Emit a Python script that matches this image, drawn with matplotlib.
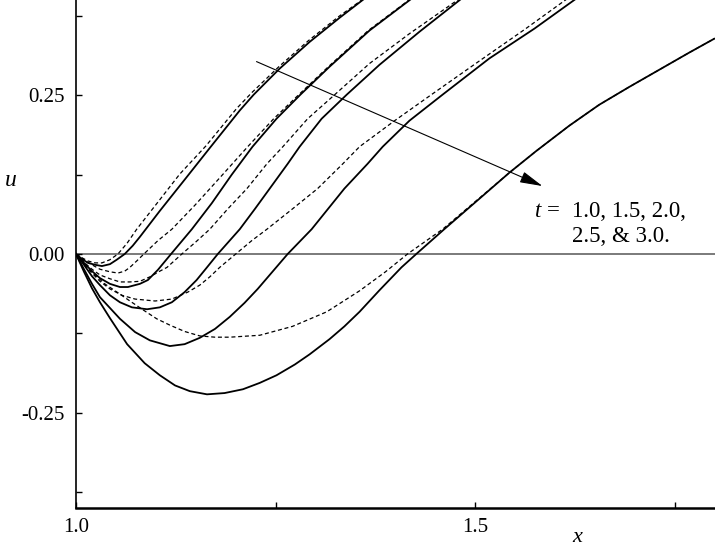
import matplotlib
matplotlib.use("Agg")
import matplotlib.pyplot as plt
from matplotlib.ticker import FixedLocator, FuncFormatter

# solid curves: t = 1.0, 1.5, 2.0, 2.5, 3.0
s1_x = [1.000, 1.0075, 1.015, 1.024, 1.0325, 1.0425, 1.051, 1.061, 1.071, 1.080, 1.105,
        1.136, 1.1675, 1.205, 1.2225, 1.255, 1.2925, 1.330, 1.361]
s1_u = [0, -0.008, -0.014, -0.017, -0.019, -0.016, -0.009, 0, 0.013, 0.027, 0.068,
        0.117, 0.167, 0.226, 0.251, 0.292, 0.334, 0.372, 0.402]

s2_x = [1.000, 1.010, 1.020, 1.030, 1.0425, 1.055, 1.065, 1.080, 1.090, 1.1025, 1.119,
        1.145, 1.170, 1.195, 1.221, 1.251, 1.281, 1.3175, 1.3675, 1.420]
s2_u = [0, -0.014, -0.027, -0.038, -0.047, -0.052, -0.052, -0.047, -0.041, -0.025, 0,
        0.039, 0.080, 0.125, 0.169, 0.213, 0.251, 0.295, 0.352, 0.402]

s3_x = [1.000, 1.010, 1.020, 1.030, 1.0425, 1.055, 1.070, 1.089, 1.105, 1.120, 1.136,
        1.151, 1.164, 1.1775, 1.205, 1.224, 1.2425, 1.265, 1.280, 1.3075, 1.339, 1.380,
        1.430, 1.4825]
s3_u = [0, -0.017, -0.035, -0.049, -0.065, -0.076, -0.084, -0.087, -0.084, -0.076, -0.060,
        -0.041, -0.021, 0, 0.039, 0.071, 0.103, 0.142, 0.169, 0.213, 0.251, 0.298,
        0.350, 0.402]

s4_x = [1.000, 1.010, 1.020, 1.030, 1.0425, 1.055, 1.074, 1.0925, 1.1175, 1.136, 1.155,
        1.174, 1.1925, 1.211, 1.2275, 1.2425, 1.265, 1.295, 1.336, 1.365, 1.384, 1.4175,
        1.459, 1.5175, 1.574, 1.626]
s4_u = [0, -0.024, -0.047, -0.068, -0.085, -0.102, -0.123, -0.136, -0.145, -0.142, -0.132,
        -0.118, -0.099, -0.077, -0.055, -0.033, 0, 0.039, 0.103, 0.142, 0.169, 0.210,
        0.251, 0.308, 0.355, 0.402]

s5_x = [1.000, 1.010, 1.020, 1.030, 1.0425, 1.064, 1.086, 1.105, 1.124, 1.1425, 1.164,
        1.186, 1.209, 1.230, 1.251, 1.274, 1.2925, 1.3175, 1.336, 1.355, 1.380, 1.4075,
        1.426, 1.461, 1.505, 1.5425, 1.576, 1.6175, 1.655, 1.6925, 1.730, 1.7675, 1.799]
s5_u = [0, -0.028, -0.054, -0.076, -0.101, -0.142, -0.172, -0.191, -0.207, -0.216, -0.221,
        -0.219, -0.213, -0.203, -0.191, -0.174, -0.158, -0.134, -0.114, -0.091, -0.057,
        -0.021, 0, 0.039, 0.087, 0.128, 0.162, 0.202, 0.235, 0.263, 0.290, 0.317, 0.339]

# dashed curves (same t values)
d1_x = [1.000, 1.0075, 1.015, 1.024, 1.0325, 1.0425, 1.0525, 1.064, 1.076, 1.099, 1.130,
        1.1625, 1.201, 1.220, 1.254, 1.291, 1.329, 1.360]
d1_u = [0, -0.006, -0.011, -0.014, -0.014, -0.009, 0, 0.017, 0.039, 0.076, 0.126,
        0.170, 0.229, 0.254, 0.295, 0.336, 0.374, 0.402]

d2_x = [1.000, 1.010, 1.020, 1.030, 1.0425, 1.0525, 1.061, 1.0675, 1.076, 1.085, 1.1025,
        1.120, 1.149, 1.180, 1.215, 1.2475, 1.279, 1.316, 1.366, 1.419]
d2_u = [0, -0.009, -0.017, -0.024, -0.028, -0.030, -0.027, -0.021, -0.011, 0, 0.021,
        0.039, 0.077, 0.120, 0.169, 0.213, 0.251, 0.295, 0.352, 0.402]

d3_x = [1.000, 1.010, 1.020, 1.030, 1.0425, 1.055, 1.0675, 1.080, 1.0925, 1.105, 1.114,
        1.1325, 1.150, 1.1675, 1.190, 1.214, 1.239, 1.259, 1.290, 1.324, 1.3675, 1.4175,
        1.480]
d3_u = [0, -0.013, -0.024, -0.033, -0.039, -0.044, -0.044, -0.043, -0.036, -0.027, -0.021,
        0, 0.019, 0.039, 0.071, 0.103, 0.142, 0.169, 0.213, 0.251, 0.300, 0.347, 0.402]

d4_x = [1.000, 1.010, 1.020, 1.030, 1.0425, 1.0575, 1.074, 1.099, 1.120, 1.140, 1.155,
        1.1675, 1.180, 1.200, 1.220, 1.239, 1.271, 1.3025, 1.334, 1.355, 1.399, 1.445,
        1.505, 1.561, 1.615]
d4_u = [0, -0.016, -0.030, -0.043, -0.055, -0.065, -0.071, -0.074, -0.071, -0.060, -0.049,
        -0.036, -0.021, 0, 0.021, 0.039, 0.071, 0.103, 0.142, 0.169, 0.210, 0.251,
        0.304, 0.353, 0.402]

d5_x = [1.000, 1.010, 1.024, 1.036, 1.049, 1.0675, 1.084, 1.101, 1.1175, 1.136, 1.155,
        1.174, 1.1925, 1.230, 1.271, 1.314, 1.355, 1.3875, 1.415, 1.459, 1.505, 1.5425,
        1.576, 1.6175, 1.655, 1.6925, 1.730, 1.7675, 1.799]
d5_u = [0, -0.014, -0.033, -0.047, -0.058, -0.074, -0.088, -0.102, -0.112, -0.122, -0.129,
        -0.131, -0.131, -0.128, -0.114, -0.091, -0.058, -0.028, 0, 0.039, 0.088, 0.128,
        0.162, 0.202, 0.235, 0.263, 0.290, 0.317, 0.339]

x_ticks = [1.0, 1.25, 1.5, 1.75]
x_labels = {1.0: "1.0", 1.5: "1.5"}
y_ticks = [-0.375, -0.25, -0.125, 0.0, 0.125, 0.25, 0.375]
y_labels = {-0.25: "-0.25", 0.0: "0.00", 0.25: "0.25"}
t_line1 = "1.0, 1.5, 2.0,"
t_line2 = "2.5, & 3.0."

plt.rcParams["font.family"] = ["Liberation Serif", "DejaVu Serif"]
plt.rcParams["mathtext.fontset"] = "custom"
plt.rcParams["mathtext.it"] = "Liberation Serif:italic"
plt.rcParams["mathtext.rm"] = "Liberation Serif"

fig = plt.figure(figsize=(7.15, 5.48), dpi=100)
ax = fig.add_axes([76 / 715, 40 / 548, 639 / 715, 508 / 548])

ax.axhline(0, color="#707070", lw=1.3, zorder=1)

solids = [(s1_x, s1_u), (s2_x, s2_u), (s3_x, s3_u), (s4_x, s4_u), (s5_x, s5_u)]
dashes = [(d1_x, d1_u), (d2_x, d2_u), (d3_x, d3_u), (d4_x, d4_u), (d5_x, d5_u)]
for xs, us in solids:
    ax.plot(xs, us, color="black", lw=1.3, solid_joinstyle="round")
for xs, us in dashes:
    ax.plot(xs, us, color="black", lw=0.9, dashes=(3.2, 2.2))

ax.annotate("", xy=(1.584, 0.107), xytext=(1.226, 0.303),
            arrowprops=dict(arrowstyle="-|>,head_length=1.4,head_width=0.35",
                            color="black", lw=0.8, shrinkA=0, shrinkB=0))
# label block: "t =" then the five times on two lines
ax.text(1.574, 0.058, "$t$ =", fontsize=16.5, va="baseline", ha="left")
ax.text(1.621, 0.058, t_line1, fontsize=16.5, va="baseline", ha="left")
ax.text(1.621, 0.019, t_line2, fontsize=16.5, va="baseline", ha="left")

ax.set_xlim(1.0, 1.8)
ax.set_ylim(-0.4, 0.4)
ax.xaxis.set_major_locator(FixedLocator(x_ticks))
ax.yaxis.set_major_locator(FixedLocator(y_ticks))
ax.xaxis.set_major_formatter(FuncFormatter(lambda v, p: x_labels.get(round(v, 3), "")))
ax.yaxis.set_major_formatter(FuncFormatter(lambda v, p: y_labels.get(round(v, 3), "")))
ax.tick_params(direction="in", length=4, width=1, labelsize=15, colors="black")
ax.tick_params(axis="x", pad=7)
ax.tick_params(axis="y", pad=8)

for side in ("top", "right"):
    ax.spines[side].set_visible(False)
ax.spines["left"].set_linewidth(1.2)
ax.spines["bottom"].set_linewidth(1.8)

fig.text(4 / 715, 1 - 181 / 548, "$u$", fontsize=17, ha="left", va="center")
fig.text(578 / 715, 1 / 548, "$x$", fontsize=16, ha="center", va="bottom")

fig.savefig("out.png", dpi=100)
